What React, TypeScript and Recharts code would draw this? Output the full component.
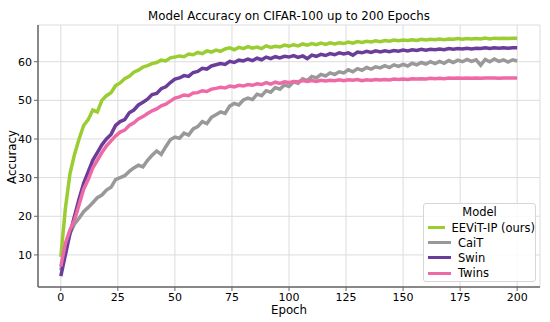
import { LineChart, Line, XAxis, YAxis, CartesianGrid } from 'recharts';

const epochs = Array.from({ length: 101 }, (_, i) => i * 2);

const eevit = [
  9.5, 22, 31, 36, 40, 43.5, 45, 47.5, 47, 50, 51.2, 52, 53.8, 54.5, 55.6, 56.2, 57.3, 57.8, 58.6, 59,
  59.5, 59.8, 60.4, 60.2, 61, 61.2, 61.5, 61.3, 62, 61.8, 62.4, 62.1, 62.8, 62.5, 63, 62.7, 63.3, 63.6, 63.1, 63.7,
  63.4, 63.9, 63.5, 63.8, 63.4, 64.1, 63.7, 64, 63.8, 64.3, 64, 64.4, 64.1, 64.6, 64.3, 64.7, 64.4, 64.8, 64.5, 64.9,
  64.6, 64.9, 64.7, 65.1, 64.8, 65.2, 65, 65.3, 65.1, 65.4, 65.2, 65.5, 65.3, 65.6, 65.4, 65.6, 65.5, 65.7, 65.5, 65.8,
  65.6, 65.8, 65.7, 65.9, 65.7, 65.9, 65.8, 66, 65.8, 66, 65.9, 66, 65.9, 66.1, 65.9, 66.1, 66, 66.1, 66, 66.1, 66.1,
];

const cait = [
  6, 11.5, 15.5, 18, 19.5, 21.2, 22.3, 23.5, 24.8, 25.5, 26.8, 27.5, 29.5, 30, 30.5, 31.6, 32.5, 33.2, 32.8, 34.5,
  35.8, 36.9, 36, 38, 39.8, 40.5, 40.2, 41.5, 41, 42.6, 43.2, 44.5, 44, 45.6, 46.3, 47, 46.6, 48.5, 49.2, 48.8,
  50.1, 50.6, 50.2, 51.6, 51.2, 52.5, 52.1, 53.3, 52.9, 54, 53.6, 54.8, 54.4, 55.6, 55.1, 56.2, 55.8, 56.7, 56.3, 57.1,
  56.7, 57.4, 57.1, 57.9, 57.4, 58.2, 57.8, 58.5, 58.1, 58.7, 58.4, 59, 58.5, 59.2, 58.8, 59.3, 58.9, 59.6, 59.2, 59.8,
  59.4, 60, 59.5, 60.1, 59.6, 60.3, 59.8, 60.4, 60, 60.6, 60.1, 60.5, 59.1, 60.6, 60, 60.7, 60.1, 60.5, 59.9, 60.5, 60.2,
];

const swin = [
  4.5, 10, 15.5, 20, 24.5, 28.5, 31.5, 34.5, 36.5, 38.5, 40, 41.2, 43.5, 44.5, 45, 46.8, 47.5, 48.8, 49.5, 50.3,
  51.5, 51.8, 53, 53.5, 54.6, 55.5, 55.8, 56.4, 56.2, 57.2, 57.5, 58.3, 58.1, 58.9, 59.2, 59.5, 59.3, 60.1, 59.8, 60.4,
  60.2, 60.7, 60.3, 60.9, 60.5, 61.2, 60.8, 61.3, 61, 61.4, 61.2, 61.6, 61.1, 61.5, 60.8, 61.7, 61.4, 61.9, 61.6, 62.1,
  61.8, 62.3, 62, 62.3, 61.7, 62.5, 62.3, 62.7, 62.4, 62.8, 62.5, 62.8, 62.6, 62.9, 62.7, 63, 62.8, 63.1, 62.9, 63.2,
  63, 63.2, 63.1, 63.3, 63.1, 63.4, 63.2, 63.4, 63.3, 63.5, 63.3, 63.5, 63.4, 63.6, 63.4, 63.6, 63.5, 63.6, 63.5, 63.6, 63.6,
];

const twins = [
  7, 13, 16.5, 19, 23, 27, 29.5, 32.5, 34.5, 36.5, 38.2, 39.5, 40.8, 41.8, 42.3, 43.5, 44.2, 45.2, 45.8, 46.6,
  47.3, 47.8, 48.6, 49, 49.8, 50.6, 50.9, 51.4, 51.2, 51.9, 52, 52.5, 52.3, 52.9, 53.1, 53.4, 53.2, 53.7, 53.5, 53.9,
  53.7, 54.1, 53.9, 54.3, 54.1, 54.6, 54.2, 54.7, 54.4, 54.8, 54.6, 54.9, 54.8, 55.1, 54.9, 55.1, 54.9, 55.2, 55, 55.2,
  55.1, 55.3, 55.1, 55.3, 55.2, 55.4, 55.1, 55.3, 55.2, 55.4, 55.3, 55.4, 55.3, 55.5, 55.4, 55.5, 55.4, 55.6, 55.5, 55.6,
  55.5, 55.7, 55.6, 55.7, 55.6, 55.8, 55.7, 55.8, 55.7, 55.8, 55.7, 55.8, 55.7, 55.8, 55.8, 55.8, 55.7, 55.8, 55.8, 55.8, 55.8,
];

const xTicks = [0, 25, 50, 75, 100, 125, 150, 175, 200];
const yTicks = [10, 20, 30, 40, 50, 60];

const series = [
  { key: 'eevit', name: 'EEViT-IP (ours)', color: '#9acd32' },
  { key: 'cait', name: 'CaiT', color: '#999999' },
  { key: 'swin', name: 'Swin', color: '#6a3d9a' },
  { key: 'twins', name: 'Twins', color: '#ee6aa7' },
];

const data = epochs.map((e, i) => ({
  epoch: e,
  eevit: eevit[i],
  cait: cait[i],
  swin: swin[i],
  twins: twins[i],
}));

const font = '"DejaVu Sans", sans-serif';

function LegendBox() {
  return (
    <div
      style={{
        position: 'absolute',
        left: 423,
        top: 203,
        width: 113,
        height: 79,
        boxSizing: 'border-box',
        background: 'rgba(255,255,255,0.85)',
        border: '1px solid #d6d6d6',
        borderRadius: 3,
        padding: '0 0 0 4px',
        fontFamily: font,
        fontSize: 11.5,
        color: '#000',
        whiteSpace: 'nowrap',
      }}
    >
      <div style={{ textAlign: 'center', lineHeight: '15px', marginTop: 1, paddingRight: 4 }}>Model</div>
      {series.map((s) => (
        <div key={s.key} style={{ display: 'flex', alignItems: 'center', height: 15.2 }}>
          <span style={{ display: 'inline-block', width: 23, height: 3, background: s.color, marginRight: 7 }} />
          <span>{s.name}</span>
        </div>
      ))}
    </div>
  );
}

export default function App() {
  return (
    <div style={{ position: 'absolute', left: 0, top: 0, width: 550, height: 322, background: '#fff', fontFamily: font }}>
      <div
        style={{
          position: 'absolute',
          left: 38,
          width: 502,
          top: 9,
          textAlign: 'center',
          fontSize: 11.8,
          color: '#000',
        }}
      >
        Model Accuracy on CIFAR-100 up to 200 Epochs
      </div>
      <div style={{ position: 'absolute', left: 38, width: 502, top: 303, textAlign: 'center', fontSize: 11.8, color: '#000' }}>
        Epoch
      </div>
      <div
        style={{
          position: 'absolute',
          left: 11.5,
          top: 157,
          transform: 'translate(-50%, -50%) rotate(-90deg)',
          fontSize: 11.8,
          color: '#000',
          whiteSpace: 'nowrap',
        }}
      >
        Accuracy
      </div>
      <LineChart width={550} height={322} data={data} margin={{ top: 25, right: 10, left: 0, bottom: 0 }}>
        <CartesianGrid stroke="#dcdcdc" strokeWidth={1} />
        <XAxis
          dataKey="epoch"
          type="number"
          domain={[-10, 210]}
          ticks={xTicks}
          height={35}
          tick={{ fill: '#000', fontSize: 11, fontFamily: font }}
          tickSize={4}
          tickLine={{ stroke: '#666' }}
          axisLine={{ stroke: '#666', strokeWidth: 1.5 }}
        />
        <YAxis
          type="number"
          domain={[1.7, 69.5]}
          ticks={yTicks}
          width={38}
          tick={{ fill: '#000', fontSize: 11, fontFamily: font }}
          tickSize={4}
          tickLine={{ stroke: '#666' }}
          axisLine={{ stroke: '#666', strokeWidth: 1.5 }}
          allowDataOverflow
        />
        <XAxis xAxisId="top" orientation="top" type="number" domain={[-10, 210]} tick={false} tickLine={false} height={0} axisLine={{ stroke: '#666', strokeWidth: 1.5 }} />
        <YAxis yAxisId="right" orientation="right" tick={false} tickLine={false} width={0} axisLine={{ stroke: '#666', strokeWidth: 1.5 }} />
        {series.map((s) => (
          <Line
            key={s.key}
            dataKey={s.key}
            name={s.name}
            stroke={s.color}
            strokeWidth={3.5}
            dot={false}
            type="linear"
            isAnimationActive={false}
          />
        ))}
      </LineChart>
      <LegendBox />
    </div>
  );
}
